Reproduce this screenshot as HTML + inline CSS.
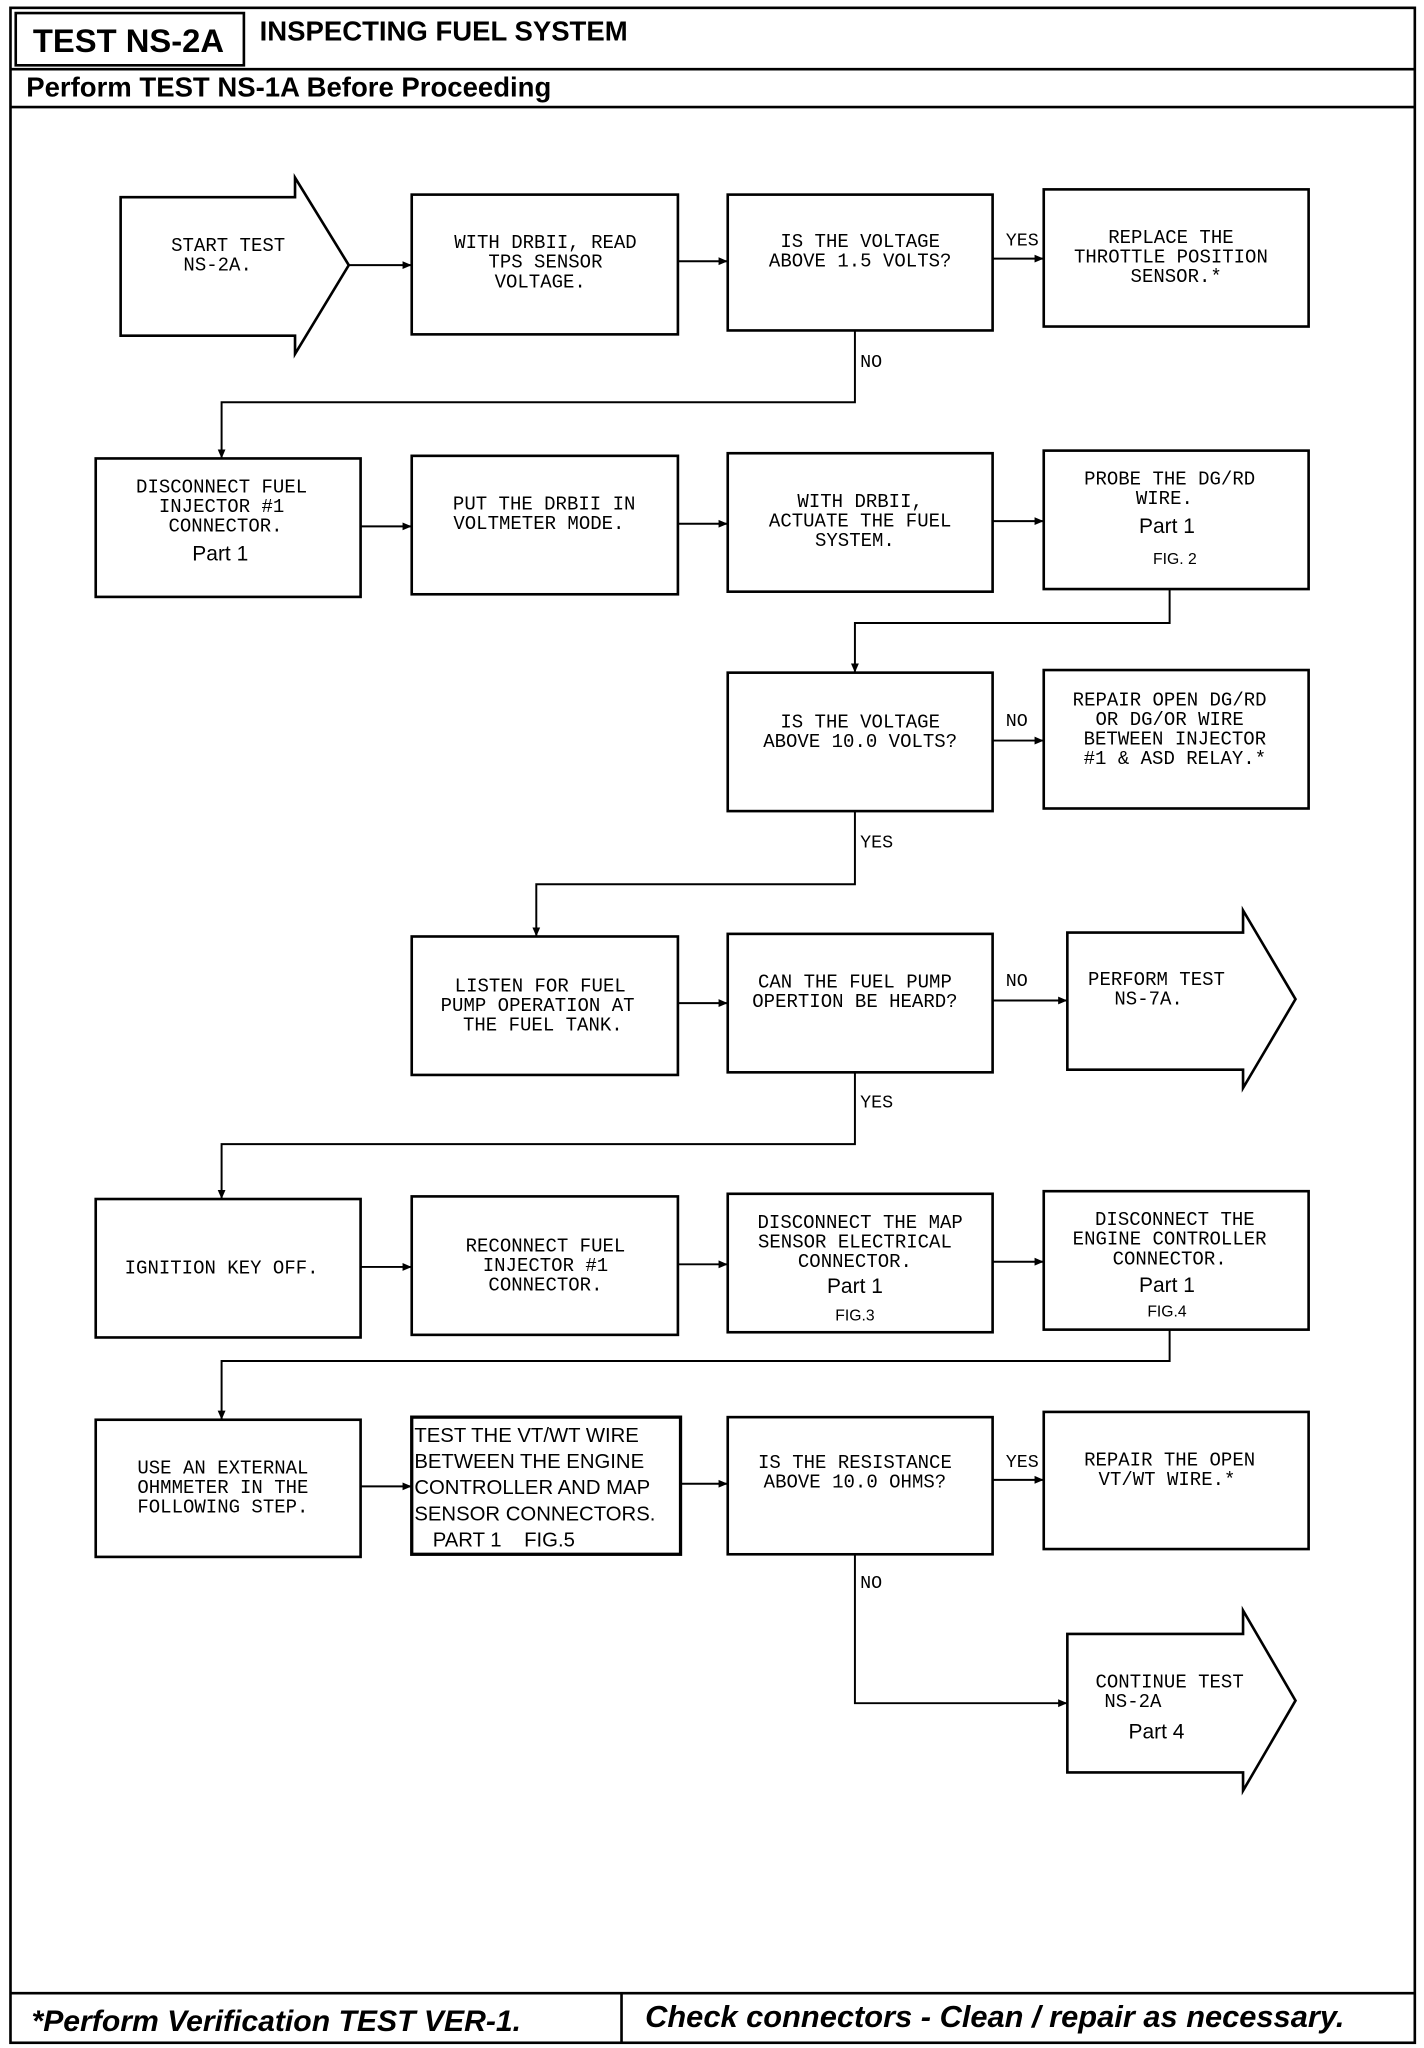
<!DOCTYPE html>
<html><head><meta charset="utf-8"><style>
html,body{margin:0;padding:0;background:#fff;width:1424px;height:2048px;overflow:hidden}
svg{display:block}
.t{font-family:"Liberation Mono",monospace;font-size:14.5px;fill:#000;text-anchor:middle}
.p{font-family:"Liberation Sans",sans-serif;font-size:16px;fill:#000;text-anchor:middle}
.s{font-family:"Liberation Sans",sans-serif;font-size:12px;fill:#000;text-anchor:middle}
.l{font-family:"Liberation Mono",monospace;font-size:14px;fill:#000}
</style></head><body>
<svg width="1424" height="2048" viewBox="0 0 1086 1568" preserveAspectRatio="none" xmlns="http://www.w3.org/2000/svg">
<defs><marker id="a" markerWidth="8" markerHeight="8" refX="7" refY="4" orient="auto" markerUnits="userSpaceOnUse"><path d="M0,1 L7,4 L0,7 Z" fill="#000"/></marker></defs>
<g fill="none" stroke="#000" stroke-width="2">
<rect x="8" y="6" width="1071" height="1558"/>
<rect x="12" y="10" width="174" height="40"/>
<line x1="8" y1="53" x2="1079" y2="53"/>
<line x1="8" y1="82" x2="1079" y2="82"/>
<line x1="8" y1="1526" x2="1079" y2="1526"/>
<line x1="474" y1="1526" x2="474" y2="1564"/>
<path d="M92,151 H225 V136 L266,203 L225,271 V257 H92 Z"/>
<path d="M814,714 H948 V697 L988,765 L948,833 V819 H814 Z"/>
<path d="M814,1251 H948 V1233 L988,1302 L948,1371 V1357 H814 Z"/>
<rect x="314" y="149" width="203" height="107"/>
<rect x="555" y="149" width="202" height="104"/>
<rect x="796" y="145" width="202" height="105"/>
<rect x="73" y="351" width="202" height="106"/>
<rect x="314" y="349" width="203" height="106"/>
<rect x="555" y="347" width="202" height="106"/>
<rect x="796" y="345" width="202" height="106"/>
<rect x="555" y="515" width="202" height="106"/>
<rect x="796" y="513" width="202" height="106"/>
<rect x="314" y="717" width="203" height="106"/>
<rect x="555" y="715" width="202" height="106"/>
<rect x="73" y="918" width="202" height="106"/>
<rect x="314" y="916" width="203" height="106"/>
<rect x="555" y="914" width="202" height="106"/>
<rect x="796" y="912" width="202" height="106"/>
<rect x="73" y="1087" width="202" height="105"/>
<rect x="314" y="1085" width="205" height="105" stroke-width="2.5"/>
<rect x="555" y="1085" width="202" height="105"/>
<rect x="796" y="1081" width="202" height="105"/>
</g>
<g fill="none" stroke="#000" stroke-width="1.5" marker-end="url(#a)">
<path d="M266,203 H314"/>
<path d="M517,200 H555"/>
<path d="M757,198 H796"/>
<path d="M652,253 V308 H169 V351"/>
<path d="M275,403 H314"/>
<path d="M517,401 H555"/>
<path d="M757,399 H796"/>
<path d="M892,451 V477 H652 V515"/>
<path d="M757,567 H796"/>
<path d="M652,621 V677 H409 V717"/>
<path d="M517,768 H555"/>
<path d="M757,766 H814"/>
<path d="M652,821 V876 H169 V918"/>
<path d="M275,970 H314"/>
<path d="M517,968 H555"/>
<path d="M757,966 H796"/>
<path d="M892,1018 V1042 H169 V1087"/>
<path d="M275,1138 H314"/>
<path d="M519,1136 H555"/>
<path d="M757,1133 H796"/>
<path d="M652,1190 V1304 H814"/>
</g>
<text x="98" y="40" style="font-family:'Liberation Sans',sans-serif;font-weight:bold;font-size:25px" text-anchor="middle">TEST NS-2A</text>
<text x="198" y="31" style="font-family:'Liberation Sans',sans-serif;font-weight:bold;font-size:21px">INSPECTING FUEL SYSTEM</text>
<text x="20" y="74" style="font-family:'Liberation Sans',sans-serif;font-weight:bold;font-size:21px">Perform TEST NS-1A Before Proceeding</text>
<text x="24" y="1555" style="font-family:'Liberation Sans',sans-serif;font-weight:bold;font-style:italic;font-size:23px">*Perform Verification TEST VER-1.</text>
<text x="492" y="1552" style="font-family:'Liberation Sans',sans-serif;font-weight:bold;font-style:italic;font-size:23.5px">Check connectors - Clean / repair as necessary.</text>

<text class="t" x="174" y="192">START TEST<tspan x="166" dy="15">NS-2A.</tspan></text>
<text class="t" x="416" y="190">WITH DRBII, READ<tspan x="416" dy="15">TPS SENSOR</tspan><tspan x="412" dy="15">VOLTAGE.</tspan></text>
<text class="t" x="656" y="189">IS THE VOLTAGE<tspan x="656" dy="15">ABOVE 1.5 VOLTS?</tspan></text>
<text class="t" x="893" y="186">REPLACE THE<tspan x="893" dy="15">THROTTLE POSITION</tspan><tspan x="897" dy="15">SENSOR.*</tspan></text>
<text class="l" x="767" y="188">YES</text>
<text class="l" x="656" y="281">NO</text>

<text class="t" x="169" y="377">DISCONNECT FUEL<tspan x="169" dy="15">INJECTOR #1</tspan><tspan x="172" dy="15">CONNECTOR.</tspan></text>
<text class="p" x="168" y="429">Part 1</text>
<text class="t" x="415" y="390">PUT THE DRBII IN<tspan x="411" dy="15">VOLTMETER MODE.</tspan></text>
<text class="t" x="656" y="388">WITH DRBII,<tspan x="656" dy="15">ACTUATE THE FUEL</tspan><tspan x="652" dy="15">SYSTEM.</tspan></text>
<text class="t" x="892" y="371">PROBE THE DG/RD<tspan x="888" dy="15">WIRE.</tspan></text>
<text class="p" x="890" y="408">Part 1</text>
<text class="s" x="896" y="432">FIG. 2</text>

<text class="t" x="656" y="557">IS THE VOLTAGE<tspan x="656" dy="15">ABOVE 10.0 VOLTS?</tspan></text>
<text class="t" x="892" y="540">REPAIR OPEN DG/RD<tspan x="892" dy="15">OR DG/OR WIRE</tspan><tspan x="896" dy="15">BETWEEN INJECTOR</tspan><tspan x="896" dy="15">#1 &amp; ASD RELAY.*</tspan></text>
<text class="l" x="767" y="556">NO</text>
<text class="l" x="656" y="649">YES</text>

<text class="t" x="412" y="759">LISTEN FOR FUEL<tspan x="410" dy="15">PUMP OPERATION AT</tspan><tspan x="414" dy="15">THE FUEL TANK.</tspan></text>
<text class="t" x="652" y="756">CAN THE FUEL PUMP<tspan x="652" dy="15">OPERTION BE HEARD?</tspan></text>
<text class="t" x="882" y="754">PERFORM TEST<tspan x="876" dy="15">NS-7A.</tspan></text>
<text class="l" x="767" y="755">NO</text>
<text class="l" x="656" y="848">YES</text>

<text class="t" x="169" y="975">IGNITION KEY OFF.</text>
<text class="t" x="416" y="958">RECONNECT FUEL<tspan x="416" dy="15">INJECTOR #1</tspan><tspan x="416" dy="15">CONNECTOR.</tspan></text>
<text class="t" x="656" y="940">DISCONNECT THE MAP<tspan x="652" dy="15">SENSOR ELECTRICAL</tspan><tspan x="652" dy="15">CONNECTOR.</tspan></text>
<text class="p" x="652" y="990">Part 1</text>
<text class="s" x="652" y="1011">FIG.3</text>
<text class="t" x="896" y="938">DISCONNECT THE<tspan x="892" dy="15">ENGINE CONTROLLER</tspan><tspan x="892" dy="15">CONNECTOR.</tspan></text>
<text class="p" x="890" y="989">Part 1</text>
<text class="s" x="890" y="1008">FIG.4</text>

<text class="t" x="170" y="1128">USE AN EXTERNAL<tspan x="170" dy="15">OHMMETER IN THE</tspan><tspan x="170" dy="15">FOLLOWING STEP.</tspan></text>
<g style="font-family:'Liberation Sans',sans-serif;font-size:15.5px">
<text x="316" y="1104">TEST THE VT/WT WIRE</text>
<text x="316" y="1124">BETWEEN THE ENGINE</text>
<text x="316" y="1144">CONTROLLER AND MAP</text>
<text x="316" y="1164">SENSOR CONNECTORS.</text>
<text x="330" y="1184">PART 1&#160;&#160;&#160;&#160;FIG.5</text>
</g>
<text class="t" x="652" y="1124">IS THE RESISTANCE<tspan x="652" dy="15">ABOVE 10.0 OHMS?</tspan></text>
<text class="t" x="892" y="1122">REPAIR THE OPEN<tspan x="890" dy="15">VT/WT WIRE.*</tspan></text>
<text class="l" x="767" y="1123">YES</text>
<text class="l" x="656" y="1216">NO</text>

<text class="t" x="892" y="1292">CONTINUE TEST<tspan x="864" dy="15">NS-2A</tspan></text>
<text class="p" x="882" y="1331">Part 4</text>
</svg>
</body></html>
